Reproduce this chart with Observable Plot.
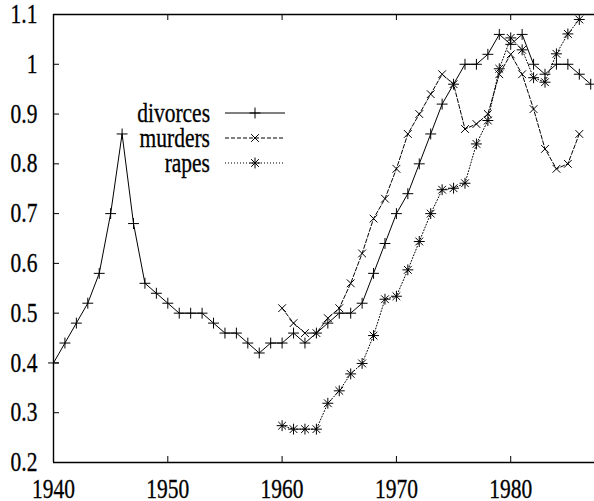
<!DOCTYPE html>
<html>
<head>
<meta charset="utf-8">
<script src="https://cdn.jsdelivr.net/npm/d3@7"></script>
<script src="https://cdn.jsdelivr.net/npm/@observablehq/plot@0.6"></script>
<style>
  html, body { margin: 0; padding: 0; background: #fff; }
  #chart { position: relative; width: 594px; height: 501px; overflow: hidden; }
  #chart svg, #chart svg text { font-family: "Liberation Serif", "DejaVu Serif", "Times New Roman", Times, serif !important; }
  #chart svg text { stroke: #000; stroke-width: 0.25px; }
</style>
</head>
<body>
<div id="chart"></div>
<script>
const divorceYears = d3.range(1940, 1988);
const divorceValues = [
  0.40, 0.44, 0.48, 0.52, 0.58, 0.70, 0.86, 0.68, 0.56, 0.54,
  0.52, 0.50, 0.50, 0.50, 0.48, 0.46, 0.46, 0.44, 0.42, 0.44,
  0.44, 0.46, 0.44, 0.46, 0.48, 0.50, 0.50, 0.52, 0.58, 0.64,
  0.70, 0.74, 0.80, 0.86, 0.92, 0.96, 1.00, 1.00, 1.02, 1.06,
  1.04, 1.06, 1.00, 0.98, 1.00, 1.00, 0.98, 0.96
];
const murderYears = d3.range(1960, 1987);
const murderValues = [
  0.51, 0.48, 0.46, 0.46, 0.49, 0.51, 0.56, 0.62, 0.69, 0.73,
  0.79, 0.86, 0.90, 0.94, 0.98, 0.96, 0.87, 0.88, 0.90, 0.98,
  1.02, 0.98, 0.91, 0.83, 0.79, 0.80, 0.86
];
const rapeYears = d3.range(1960, 1987);
const rapeValues = [
  0.274, 0.267, 0.267, 0.267, 0.319, 0.344, 0.378, 0.399, 0.455, 0.528,
  0.534, 0.587, 0.644, 0.700, 0.748, 0.751, 0.761, 0.840, 0.887, 0.991,
  1.053, 1.029, 0.973, 0.964, 1.021, 1.061, 1.090
];
const seriesNames = ["divorces", "murders", "rapes"];
const xTicks = [1940, 1950, 1960, 1970, 1980];
const yTicks = [0.2, 0.3, 0.4, 0.5, 0.6, 0.7, 0.8, 0.9, 1, 1.1];

const toRows = (years, values) => years.map((year, i) => ({year, value: values[i]}));
const divorces = toRows(divorceYears, divorceValues);
const murders = toRows(murderYears, murderValues);
const rapes = toRows(rapeYears, rapeValues);

const W = 594, H = 501;
const mTop = 14, mBottom = 39, mLeft = 53, mRight = 0;
const plotH = H - mTop - mBottom, plotW = W - mLeft - mRight;
const FONT = "Liberation Serif, DejaVu Serif, serif";
const FS = 21.5;
const STRETCH = 1.25;
const TICK = 6;
const markerR = 3.6;

const styles = {
  divorces: {dash: null},
  murders: {dash: "4,2"},
  rapes: {dash: "1,2"}
};

const chart = Plot.plot({
  width: W,
  height: H,
  marginTop: mTop,
  marginBottom: mBottom,
  marginLeft: mLeft,
  marginRight: mRight,
  style: {fontFamily: FONT, fontSize: FS + "px", background: "#fff", color: "#000"},
  x: {domain: [1940, 1987.33], label: null},
  y: {domain: [0.2, 1.1], label: null},
  marks: [
    Plot.tickX(xTicks, {x: d => d, stroke: "#000", strokeWidth: 1, insetTop: plotH - TICK}),
    Plot.tickX(xTicks, {x: d => d, stroke: "#000", strokeWidth: 1, insetBottom: plotH - TICK}),
    Plot.tickY(yTicks, {y: d => d, stroke: "#000", strokeWidth: 1, insetRight: plotW - TICK}),
    Plot.axisX({ticks: xTicks, tickSize: 0, tickPadding: 18, tickFormat: d => String(d), fontSize: FS, fill: "#000"}),
    Plot.axisY({ticks: yTicks, tickSize: 0, tickPadding: 16, tickFormat: d => String(d), fontSize: FS, fill: "#000"}),
    Plot.line(divorces, {x: "year", y: "value", stroke: "#000", strokeWidth: 1}),
    Plot.line(murders, {x: "year", y: "value", stroke: "#000", strokeWidth: 1, strokeDasharray: styles.murders.dash}),
    Plot.line(rapes, {x: "year", y: "value", stroke: "#000", strokeWidth: 1, strokeDasharray: styles.rapes.dash}),
    Plot.dot(divorces, {x: "year", y: "value", symbol: "plus", r: markerR, stroke: "#000", strokeWidth: 1}),
    Plot.dot(murders, {x: "year", y: "value", symbol: "times", r: markerR, stroke: "#000", strokeWidth: 1}),
    Plot.dot(rapes, {x: "year", y: "value", symbol: "plus", r: markerR, stroke: "#000", strokeWidth: 1}),
    Plot.dot(rapes, {x: "year", y: "value", symbol: "times", r: markerR, stroke: "#000", strokeWidth: 1}),
    Plot.ruleX([1940], {stroke: "#000", strokeWidth: 1.4}),
    Plot.ruleY([1.1], {stroke: "#000", strokeWidth: 1.4}),
    Plot.ruleY([0.2], {stroke: "#000", strokeWidth: 1.4})
  ]
});

const svg = d3.select(chart);
const leg = svg.append("g").attr("font-family", FONT).attr("font-size", FS);
const rowY = [113, 138, 163];
const symPlus = d3.symbol(d3.symbolPlus, Math.PI * markerR * markerR);
const symTimes = d3.symbol(d3.symbolTimes, Math.PI * markerR * markerR);
seriesNames.forEach((name, i) => {
  const y = rowY[i];
  leg.append("text").attr("x", 210).attr("y", y).attr("dy", "0.32em")
    .attr("text-anchor", "end").attr("fill", "#000").text(name);
  const ln = leg.append("line").attr("x1", 225).attr("x2", 285).attr("y1", y).attr("y2", y)
    .attr("stroke", "#000").attr("stroke-width", 1);
  if (styles[name].dash) ln.attr("stroke-dasharray", styles[name].dash);
  const g = leg.append("g").attr("transform", `translate(255,${y})`)
    .attr("fill", "none").attr("stroke", "#000").attr("stroke-width", 1);
  if (name === "divorces" || name === "rapes") g.append("path").attr("d", symPlus());
  if (name === "murders" || name === "rapes") g.append("path").attr("d", symTimes());
});

document.getElementById("chart").appendChild(chart);

// The reference glyphs are vertically stretched; stretch each text about its digit centre.
svg.selectAll("text").each(function() {
  const b = this.getBBox();
  const cy = b.y + b.height / 2;
  const t = this.getAttribute("transform") || "";
  this.setAttribute("transform", `${t} translate(0,${cy}) scale(1,${STRETCH}) translate(0,${-cy})`.trim());
});
</script>
</body>
</html>
